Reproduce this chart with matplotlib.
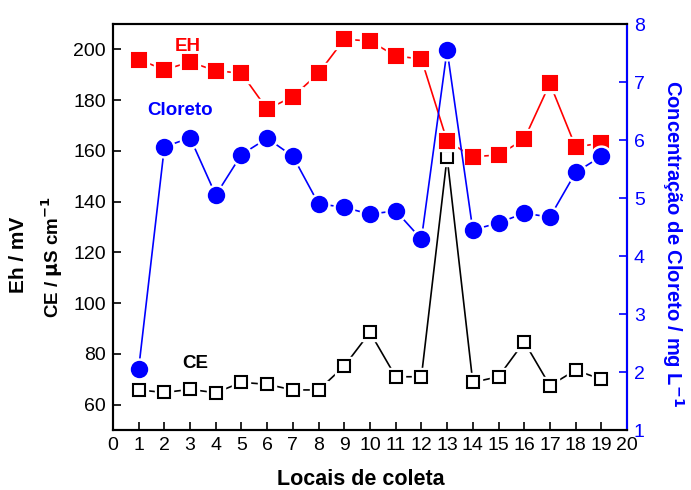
import numpy as np
import matplotlib.pyplot as plt

plt.rcParams['font.family'] = ['Liberation Sans', 'DejaVu Sans']

locais = np.arange(1, 20)
eh = [196, 192, 195, 191.6, 190.6, 176.4, 181.4, 190.6, 204, 203.3,
      197.4, 196.2, 163.9, 157.7, 158.4, 164.6, 186.6, 161.6, 163]
ce = [65.8, 64.8, 66, 64.7, 68.8, 68, 65.8, 65.8, 75.2, 88.5,
      71, 71, 157.5, 68.8, 71, 84.8, 67.5, 73.6, 70]
cloreto = [2.06, 5.88, 6.04, 5.05, 5.75, 6.03, 5.72, 4.9, 4.84, 4.72,
           4.78, 4.29, 7.55, 4.45, 4.57, 4.74, 4.67, 5.44, 5.72]

fig = plt.figure(figsize=(6.91, 4.90), dpi=100)
ax = fig.add_axes([0.1635, 0.1224, 0.7439, 0.8286])
ax2 = ax.twinx()

def serie(a, x, y, cor, marker, ms, fill, z):
    a.plot(x, y, '-', color=cor, lw=1.2, zorder=z)
    # white halo so the line stops short of each marker
    a.plot(x, y, ls='none', marker=marker, ms=ms + 4, mfc='white', mec='white', zorder=z + 0.1)
    a.plot(x, y, ls='none', marker=marker, ms=ms, mfc=fill, mec=cor, mew=1.5, zorder=z + 0.2)

serie(ax, locais, eh, 'red', 's', 10.5, 'red', 3)
serie(ax, locais, ce, 'black', 's', 9, 'white', 2)
serie(ax2, locais, cloreto, 'blue', 'o', 11, 'blue', 3)

ax.set_xlim(0, 20)
ax.set_ylim(50, 210)
ax2.set_ylim(1, 8)
ax.set_xticks(range(0, 21))
ax.set_yticks(range(60, 201, 20))
ax2.set_yticks(range(1, 9))

ax.tick_params(direction='in', length=6, width=1.2, labelsize=14, pad=5)
ax2.tick_params(direction='in', length=6, width=1.2, labelsize=14, colors='blue', pad=5)
for s in ax.spines.values():
    s.set_linewidth(1.5)
for s in ax2.spines.values():
    s.set_linewidth(1.5)
ax2.spines['right'].set_color('blue')

ax.text(2.9, 201.3, 'EH', color='red', fontsize=13.5, fontweight='bold', ha='center', va='center')
ax.text(2.6, 176, 'Cloreto', color='blue', fontsize=13.5, fontweight='bold', ha='center', va='center')
ax.text(3.2, 76.4, 'CE', color='black', fontsize=13.5, fontweight='bold', ha='center', va='center')

ax.set_xlabel('Locais de coleta', fontsize=15.5, fontweight='bold', va='top')
ax.xaxis.set_label_coords(0.4825, -0.097)
fig.text(0.027, 0.48, 'Eh / mV', rotation=90, fontsize=15, fontweight='bold',
         ha='center', va='center')
fig.text(0.076, 0.475, r'CE / $\mathbf{\mu}$S cm$^{\mathbf{-1}}$', rotation=90, fontsize=13.5,
         fontweight='bold', ha='center', va='center')
ax2.set_ylabel(r'Concentração de Cloreto / mg L$^{\mathbf{-1}}$', color='blue', fontsize=14.5,
               fontweight='bold', rotation=270, va='center')
ax2.yaxis.set_label_coords(1.09, 0.46)

fig.savefig('out.png', dpi=100)
